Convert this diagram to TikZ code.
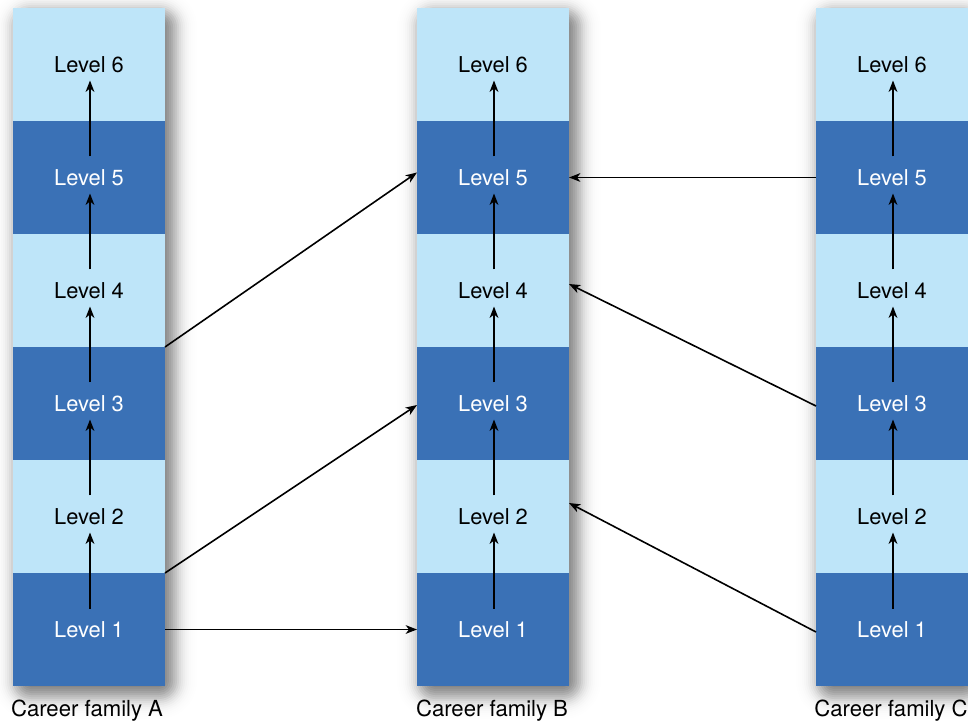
\documentclass[tikz,border=0pt]{standalone}
\usepackage{fontspec}
\setmainfont{TeX Gyre Heros}
\usetikzlibrary{calc,arrows.meta}
\definecolor{lightblu}{RGB}{190,229,249}
\definecolor{darkblu}{RGB}{58,113,182}
\tikzset{
  cell/.style={rectangle, minimum width=114pt, minimum height=84.75pt, inner sep=0pt, outer sep=0pt,
    font=\fontsize{16.4}{19}\selectfont},
  lite/.style={cell, fill=lightblu, text=black},
  dark/.style={cell, fill=darkblu, text=white},
  vert/.style={-{Stealth[length=8.5pt,width=6.5pt,inset=2.5pt]}, line width=1.5pt},
  cross/.style={-{Stealth[length=8.5pt,width=6.5pt,inset=2.5pt]}, line width=1.2pt},
  shadowlayer/.style={fill=black, draw=none},
  famlabel/.style={font=\fontsize{16.6}{19}\selectfont, inner sep=0pt}
}
\begin{document}
\begin{tikzpicture}[x=0.75pt,y=-0.75pt]
\useasboundingbox (0,0) rectangle (968,723);
\fill[white] (0,0) rectangle (968,723);
% soft (gaussian-like) shadows behind the columns
\foreach \cx in {89,493,892} {
  \foreach \r in {-26,-24,...,26} {
    \pgfmathsetmacro\op{2.5*0.0239*exp(-\r*\r/200)}
    \pgfmathsetmacro\rc{max(\r+12,1)*0.75}
    \path[shadowlayer, fill opacity=\op, rounded corners=\rc pt]
      (\cx-76-\r+6,8-\r+7) rectangle (\cx+76+\r+6,686+\r+7);
  }
}
% cells
\foreach \c/\cx in {A/89,B/493,C/892} {
  \node[dark] (\c1) at (\cx,629.5) {Level 1};
  \node[lite] (\c2) at (\cx,516.5) {Level 2};
  \node[dark] (\c3) at (\cx,403.5) {Level 3};
  \node[lite] (\c4) at (\cx,290.5) {Level 4};
  \node[dark] (\c5) at (\cx,177.5) {Level 5};
  \node[lite] (\c6) at (\cx,64.5) {Level 6};
}
% vertical arrows
\foreach \c in {A,B,C} {
  \foreach \a/\b in {1/2,2/3,3/4,4/5,5/6} {
    \draw[vert] ($(\c\a.center)+(1,-21)$) -- ($(\c\b.center)+(1,16)$);
  }
}
% family labels
\node[famlabel] (fa) at (87,711) {Career family A};
\node[famlabel] (fb) at (492,711) {Career family B};
\node[famlabel] (fc) at (891,711) {Career family C};
% cross arrows
\draw[cross] (A3.north east) -- ($(B5.west)+(0,-5)$);
\draw[cross] (A1.north east) -- ($(B3.west)+(0,1.5)$);
\draw[cross] (A1.east) -- (B1.west);
\draw[cross] (C5.west) -- (B5.east);
\draw[cross] ($(C3.west)+(0,2.5)$) -- ($(B4.east)+(0,-6.5)$);
\draw[cross] ($(C1.west)+(0,2.5)$) -- ($(B2.east)+(0,-13.5)$);
\end{tikzpicture}
\end{document}
